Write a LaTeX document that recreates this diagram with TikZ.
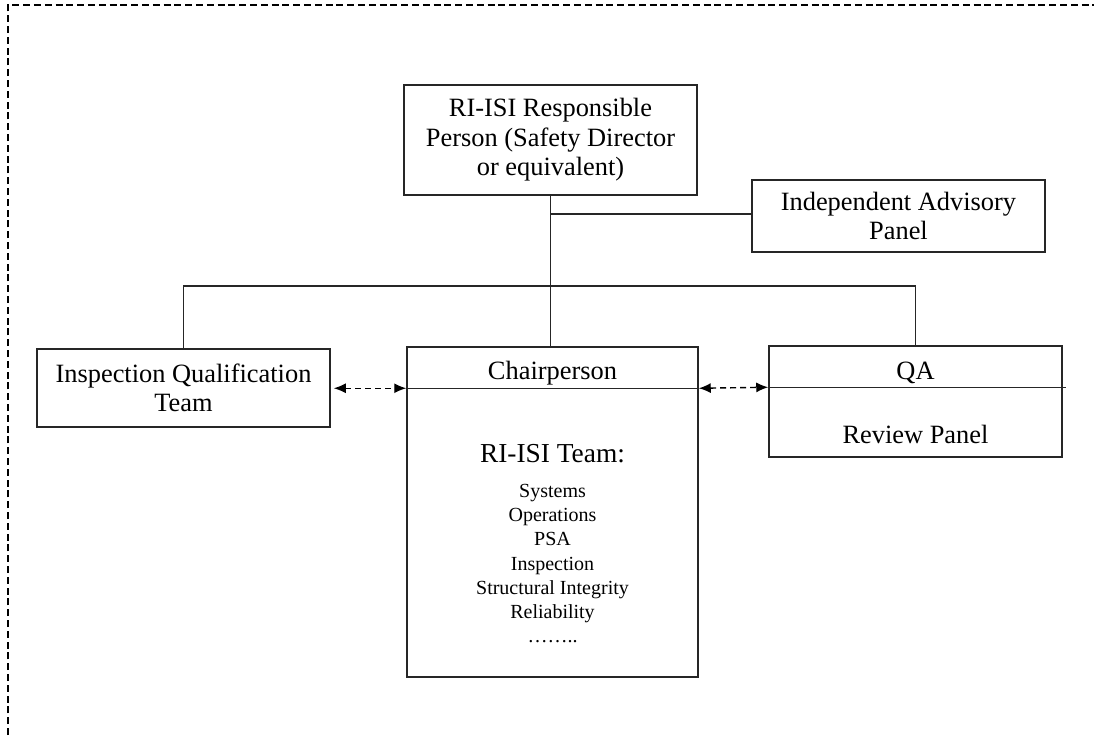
\documentclass[tikz,border=0pt]{standalone}
\usepackage{fontspec}
\setmainfont{Liberation Serif}
\usepackage{tikz}
\usetikzlibrary{calc}
\usetikzlibrary{arrows.meta}
\usetikzlibrary{positioning}

\begin{document}
\begin{tikzpicture}[
x=0.5pt,y=-0.5pt,
MyBox/.style={draw=black!85,line width=0.75pt,align=center,inner sep=0pt,
  font=\fontsize{13.2}{14.8}\selectfont},
MyText/.style={inner sep=0pt,font=\fontsize{13.2}{14.8}\selectfont},
Links/.style={draw=black!85,line width=0.7pt},
DashedArrow/.style={black,line width=0.7pt,dash pattern=on 3pt off 2pt,
  {Latex[length=6pt,width=5pt]}-{Latex[length=6pt,width=5pt]}},
Frame/.style={black,line width=1.3pt,dash pattern=on 3.5pt off 1.9pt}
]
\useasboundingbox (0,0) rectangle (1094,735);

% outer frame (only top and left are seen)
\draw[Frame] (8,735) -- (8,5) -- (1094,5);

% boxes (sizes in pt, one pt is two units)
\node[MyBox,minimum width=146.5pt,minimum height=55pt] (resp) at (550.5,140)
  {RI-ISI Responsible\\Person (Safety Director\\or equivalent)};
\node[MyBox,minimum width=146.5pt,minimum height=36pt] (panel) at (898.5,216)
  {Independent Advisory\\Panel};
\node[MyBox,minimum width=146.5pt,minimum height=39pt] (iqt) at (183.5,388)
  {Inspection Qualification\\Team};
\node[MyBox,minimum width=145.5pt,minimum height=165pt] (chair) at (552.5,512) {};
\node[MyBox,minimum width=146.5pt,minimum height=55.5pt] (qa) at (915.5,401.5) {};

% dividers
\coordinate (chairL) at ($(chair.north west)+(0,42)$);
\coordinate (chairR) at ($(chair.north east)+(0,42)$);
\coordinate (qaL) at ($(qa.north west)+(0,42)$);
\coordinate (qaR) at ($(qa.north east)+(3,42)$);
\draw[Links] (chairL) -- (chairR);
\draw[Links] (qaL) -- (qaR);

% texts in the split boxes
\node[MyText,anchor=base] (chairname) at (552.5,379) {Chairperson};
\node[MyText,anchor=base,font=\fontsize{13.7}{15}\selectfont] (teamname) at (552.5,462) {RI-ISI Team:};
\node[align=center,inner sep=0pt,anchor=north,font=\fontsize{10}{12.15}\selectfont] (members)
  at (552.5,483.5)
  {Systems\\Operations\\PSA\\Inspection\\Structural Integrity\\Reliability\\……..};
\node[MyText,anchor=base] (qaname) at (915.5,379) {QA};
\node[MyText,anchor=base] (review) at (915.5,443) {Review Panel};

% tree lines
\coordinate (branch) at (550,214);
\coordinate (bar) at (550,286);
\draw[Links] (resp.south) -- (resp.south |- chair.north);
\draw[Links] (resp.south |- branch) -- (panel.west |- branch);
\draw[Links] (iqt.north) -- (iqt.north |- bar) -- (qa.north |- bar) -- (qa.north);

% dashed links
\draw[DashedArrow] ($(iqt.east |- chairL)+(3,0)$) -- (chairL);
\draw[DashedArrow] (chairR) -- (qaL);

\end{tikzpicture}
\end{document}
